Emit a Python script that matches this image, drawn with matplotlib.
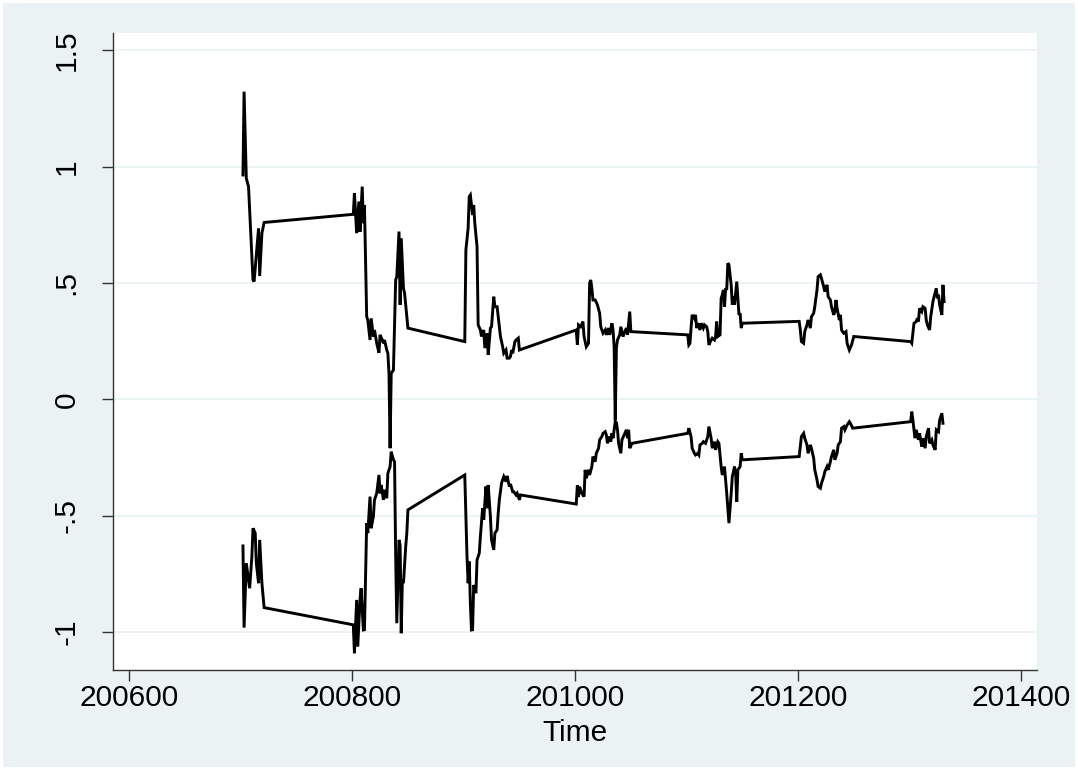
import matplotlib.pyplot as plt

plt.rcParams['font.family'] = ['Liberation Sans', 'DejaVu Sans']

# time is stored as YYYYWW (year * 100 + week), as in the source data
years = [2007, 2008, 2009, 2010, 2011, 2012, 2013]

# upper series
up_wk_2007 = [2, 3, 5, 7, 11, 12, 16, 17, 19, 21]
up_val_2007 = [0.964, 1.322, 0.95, 0.914, 0.513, 0.506, 0.735, 0.53, 0.714, 0.76]
up_wk_2008 = [1, 2, 4, 6, 7, 9, 10, 11, 13, 14, 16, 17, 19, 20, 22, 24, 25, 27, 28, 29,
              31, 32, 33, 34, 35, 36, 37, 39, 40, 42, 43, 44, 46, 47, 50]
up_val_2008 = [0.795, 0.886, 0.714, 0.85, 0.72, 0.914, 0.757, 0.835, 0.355, 0.341,
               0.255, 0.348, 0.27, 0.298, 0.241, 0.2, 0.277, 0.255, 0.241, 0.255,
               0.212, 0.198, 0.112, -0.21, 0.112, 0.119, 0.126, 0.513, 0.527, 0.721,
               0.406, 0.692, 0.477, 0.456, 0.306]
up_wk_2009 = [1, 2, 4, 5, 6, 8, 9, 10, 12, 13, 15, 16, 18, 19, 21, 22, 24, 25, 27, 28,
              30, 32, 33, 35, 36, 38, 39, 41, 42, 43, 44, 46, 47, 49, 50]
up_val_2009 = [0.248, 0.642, 0.735, 0.871, 0.878, 0.792, 0.835, 0.757, 0.656, 0.32,
               0.298, 0.27, 0.298, 0.22, 0.284, 0.191, 0.306, 0.312, 0.441, 0.398,
               0.398, 0.312, 0.27, 0.226, 0.198, 0.212, 0.177, 0.177, 0.184, 0.212,
               0.198, 0.248, 0.255, 0.263, 0.212]
up_wk_2010 = [1, 2, 3, 5, 7, 8, 10, 12, 13, 14, 15, 16, 18, 20, 22, 23, 25, 27, 28, 30,
              31, 33, 34, 35, 36, 37, 38, 40, 41, 43, 44, 46, 47, 49, 50]
up_val_2010 = [0.298, 0.234, 0.32, 0.312, 0.334, 0.27, 0.226, 0.241, 0.499, 0.513,
               0.477, 0.427, 0.427, 0.406, 0.37, 0.312, 0.284, 0.298, 0.277, 0.306,
               0.277, 0.327, 0.298, 0.226, -0.09, 0.22, 0.255, 0.277, 0.312, 0.27,
               0.284, 0.306, 0.277, 0.377, 0.291]
up_wk_2011 = [1, 2, 3, 4, 5, 7, 8, 9, 10, 12, 13, 15, 16, 18, 19, 20, 22, 23, 25, 26,
              27, 28, 30, 31, 32, 33, 34, 35, 36, 37, 38, 40, 41, 42, 43, 45, 47, 48, 49, 50]
up_val_2011 = [0.277, 0.234, 0.241, 0.306, 0.363, 0.348, 0.363, 0.306, 0.327, 0.298,
               0.327, 0.306, 0.32, 0.312, 0.291, 0.234, 0.255, 0.263, 0.255, 0.27,
               0.334, 0.27, 0.277, 0.434, 0.449, 0.47, 0.398, 0.477, 0.47, 0.585,
               0.578, 0.492, 0.406, 0.441, 0.406, 0.506, 0.363, 0.37, 0.306, 0.327]
up_wk_2012 = [1, 2, 3, 5, 6, 8, 9, 11, 12, 14, 15, 17, 18, 20, 21, 23, 24, 26, 27, 29,
              30, 32, 33, 34, 35, 37, 38, 39, 41, 43, 44, 46, 48, 50]
up_val_2012 = [0.335, 0.30, 0.248, 0.241, 0.291, 0.32, 0.341, 0.306, 0.355, 0.37,
               0.398, 0.47, 0.527, 0.535, 0.52, 0.484, 0.463, 0.492, 0.441, 0.427,
               0.398, 0.363, 0.377, 0.427, 0.391, 0.341, 0.363, 0.298, 0.284, 0.291,
               0.241, 0.212, 0.234, 0.27]
up_wk_2013 = [1, 2, 4, 6, 7, 8, 9, 11, 12, 14, 15, 16, 18, 19, 21, 22, 24, 25, 26, 27,
              29, 30, 31]
up_val_2013 = [0.248, 0.241, 0.327, 0.334, 0.348, 0.334, 0.391, 0.377, 0.398, 0.391,
               0.341, 0.32, 0.298, 0.355, 0.42, 0.441, 0.477, 0.434, 0.449, 0.406,
               0.363, 0.492, 0.42]

# lower series
lo_wk_2007 = [2, 3, 5, 7, 8, 10, 11, 13, 14, 16, 17, 19, 21]
lo_val_2007 = [-0.63, -0.981, -0.704, -0.776, -0.812, -0.676, -0.554, -0.575, -0.704,
               -0.79, -0.604, -0.79, -0.895]
lo_wk_2008 = [1, 2, 4, 5, 7, 8, 10, 11, 13, 14, 16, 17, 19, 20, 22, 24, 25, 26, 28, 29,
              31, 32, 34, 35, 37, 38, 39, 40, 42, 43, 44, 45, 46, 48, 49, 50]
lo_val_2008 = [-0.969, -1.091, -0.862, -1.063, -0.862, -0.812, -0.991, -0.99, -0.532,
               -0.575, -0.418, -0.554, -0.504, -0.432, -0.404, -0.325, -0.404, -0.368,
               -0.432, -0.389, -0.425, -0.318, -0.289, -0.225, -0.26, -0.268, -0.669,
               -0.962, -0.604, -0.626, -1.005, -0.776, -0.79, -0.633, -0.575, -0.475]
lo_wk_2009 = [1, 3, 4, 5, 6, 7, 8, 9, 11, 12, 14, 15, 17, 18, 20, 21, 22, 24, 25, 27,
              28, 30, 31, 32, 34, 36, 38, 39, 41, 42, 44, 45, 47, 48, 50, 51]
lo_val_2009 = [-0.325, -0.676, -0.79, -0.697, -0.876, -0.991, -0.99, -0.798, -0.833,
               -0.69, -0.661, -0.59, -0.468, -0.518, -0.375, -0.468, -0.368, -0.504,
               -0.604, -0.647, -0.575, -0.561, -0.489, -0.432, -0.36, -0.332, -0.354,
               -0.329, -0.375, -0.364, -0.397, -0.397, -0.411, -0.404, -0.432, -0.411]
lo_wk_2010 = [1, 2, 3, 4, 6, 8, 9, 10, 12, 13, 15, 16, 18, 19, 21, 22, 24, 25, 27, 28, 29,
              30, 32, 33, 34, 36, 37, 38, 39, 41, 42, 44, 46, 47, 48, 49, 51]
lo_val_2010 = [-0.45, -0.37, -0.42, -0.375, -0.404, -0.418, -0.303, -0.339, -0.303,
               -0.325, -0.289, -0.246, -0.268, -0.232, -0.21, -0.174, -0.16, -0.146,
               -0.139, -0.153, -0.189, -0.16, -0.182, -0.146, -0.167, -0.096, -0.1,
               -0.131, -0.189, -0.232, -0.174, -0.153, -0.131, -0.167, -0.131, -0.21,
               -0.189]
lo_wk_2011 = [1, 2, 4, 5, 7, 8, 10, 11, 12, 14, 15, 17, 18, 19, 20, 22, 23, 25, 26, 28,
              29, 31, 32, 34, 35, 36, 38, 40, 41, 43, 44, 45, 46, 48, 49, 50]
lo_val_2011 = [-0.146, -0.124, -0.16, -0.21, -0.232, -0.239, -0.232, -0.239, -0.196,
               -0.189, -0.182, -0.189, -0.174, -0.16, -0.117, -0.167, -0.21, -0.182,
               -0.217, -0.182, -0.189, -0.289, -0.325, -0.289, -0.346, -0.404, -0.532,
               -0.404, -0.332, -0.289, -0.318, -0.44, -0.303, -0.289, -0.232, -0.26]
lo_wk_2012 = [1, 2, 3, 5, 6, 8, 9, 11, 12, 14, 15, 17, 18, 20, 21, 23, 24, 26, 27, 29,
              30, 32, 33, 35, 36, 38, 39, 41, 42, 44, 46, 47, 49]
lo_val_2012 = [-0.246, -0.203, -0.16, -0.146, -0.167, -0.196, -0.232, -0.196, -0.21,
               -0.253, -0.303, -0.346, -0.375, -0.382, -0.361, -0.332, -0.311, -0.289,
               -0.303, -0.268, -0.246, -0.217, -0.26, -0.232, -0.196, -0.182, -0.124,
               -0.117, -0.131, -0.11, -0.096, -0.103, -0.124]
lo_wk_2013 = [1, 2, 3, 4, 5, 6, 8, 9, 11, 12, 14, 15, 17, 18, 20, 21, 23, 24, 26, 27,
              29, 30]
lo_val_2013 = [-0.096, -0.053, -0.089, -0.131, -0.167, -0.131, -0.174, -0.146, -0.203,
               -0.167, -0.21, -0.16, -0.124, -0.189, -0.174, -0.196, -0.217, -0.131,
               -0.139, -0.089, -0.06, -0.103]

xticks = [200600, 200800, 201000, 201200, 201400]
yticks = [-1, -0.5, 0, 0.5, 1, 1.5]
ytick_labels = ['-1', '-.5', '0', '.5', '1', '1.5']


def build(prefix):
    t, v = [], []
    for y in years:
        wk = globals()[prefix + '_wk_' + str(y)]
        val = globals()[prefix + '_val_' + str(y)]
        t.extend([y * 100 + w for w in wk])
        v.extend(val)
    return t, v


up_t, up_v = build('up')
lo_t, lo_v = build('lo')

bg = '#eaf2f3'
fig = plt.figure(figsize=(10.78, 7.7), dpi=100)
fig.patch.set_facecolor(bg)
fig.patch.set_edgecolor('white')
fig.patch.set_linewidth(4)

ax = fig.add_axes([0.1045, 0.1299, 0.8572, 0.8269])
ax.set_facecolor('white')

ax.plot(up_t, up_v, color='black', lw=2.1, solid_joinstyle='miter')
ax.plot(lo_t, lo_v, color='black', lw=2.1, solid_joinstyle='miter')

ax.set_xlim(200585.1, 201414.1)
ax.set_ylim(-1.163, 1.573)
ax.set_xticks(xticks)
ax.set_xticklabels([str(x) for x in xticks])
ax.set_yticks(yticks)
ax.set_yticklabels(ytick_labels, rotation=90, va='center')

ax.grid(axis='y', color=bg, lw=1.3)
ax.set_axisbelow(True)

for s in ['top', 'right']:
    ax.spines[s].set_visible(False)
for s in ['left', 'bottom']:
    ax.spines[s].set_color('#333333')
    ax.spines[s].set_linewidth(1.0)

ax.tick_params(axis='both', direction='out', length=8, width=1.0, color='#333333',
               labelsize=21.5, labelcolor='black')
ax.tick_params(axis='x', pad=2)
ax.tick_params(axis='y', pad=15)

ax.set_xlabel('Time', fontsize=21.5, labelpad=5)

fig.savefig('out.png', dpi=100, facecolor=fig.get_facecolor(), edgecolor='white')
